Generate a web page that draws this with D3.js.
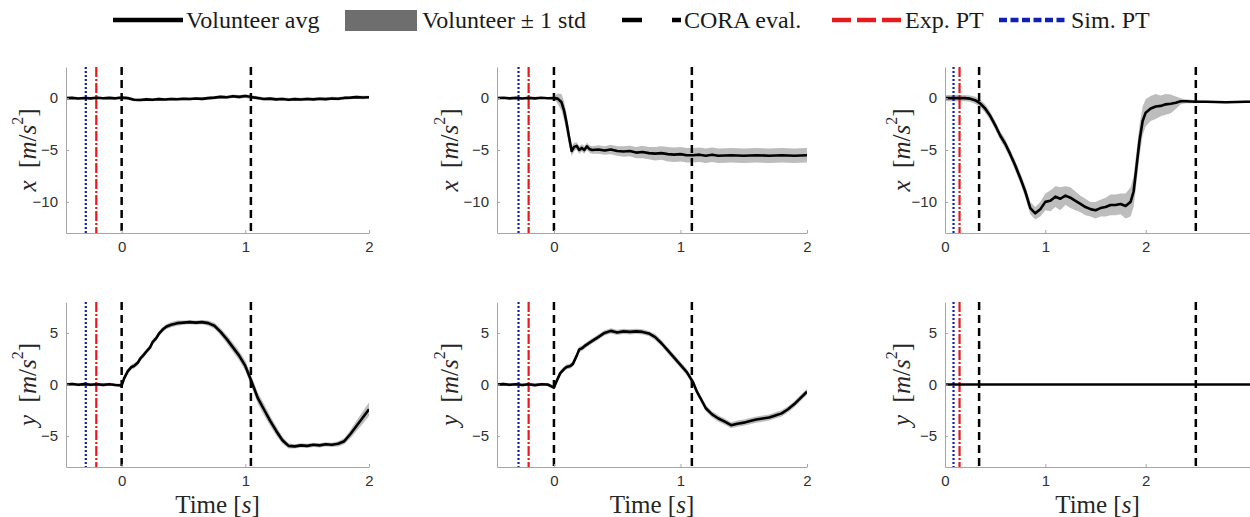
<!DOCTYPE html>
<html>
<head>
<meta charset="utf-8">
<script src="https://cdn.jsdelivr.net/npm/d3@7"></script>
<style>
  body { margin: 0; background: #fff; }
  svg { display: block; }
</style>
</head>
<body>
<div id="chart"></div>
<script>
'use strict';

// [time s, mean m/s^2, std m/s^2]
const xTest1 = [
    [-0.45, 0.0, 0.12], [-0.4, 0.02, 0.12], [-0.35, -0.03, 0.12], [-0.3, 0.01, 0.12],
    [-0.25, -0.02, 0.12], [-0.2, 0.03, 0.12], [-0.15, -0.01, 0.12], [-0.1, 0.02, 0.12],
    [-0.05, -0.02, 0.12], [0, 0.05, 0.12], [0.05, 0.0, 0.14], [0.1, -0.15, 0.15],
    [0.15, -0.18, 0.15], [0.2, -0.12, 0.15], [0.25, -0.15, 0.15], [0.3, -0.1, 0.15],
    [0.35, -0.13, 0.15], [0.4, -0.08, 0.15], [0.45, -0.11, 0.15], [0.5, -0.06, 0.15],
    [0.55, -0.09, 0.15], [0.6, -0.04, 0.15], [0.65, -0.07, 0.15], [0.7, 0.0, 0.16],
    [0.75, 0.05, 0.16], [0.8, 0.12, 0.16], [0.85, 0.08, 0.16], [0.9, 0.18, 0.17],
    [0.95, 0.12, 0.17], [1.0, 0.2, 0.18], [1.05, 0.1, 0.18], [1.1, 0.02, 0.17],
    [1.15, -0.08, 0.16], [1.2, -0.05, 0.16], [1.25, -0.12, 0.16], [1.3, -0.08, 0.16],
    [1.35, -0.15, 0.16], [1.4, -0.1, 0.16], [1.45, -0.13, 0.16], [1.5, -0.08, 0.16],
    [1.55, -0.12, 0.16], [1.6, -0.06, 0.16], [1.65, -0.1, 0.16], [1.7, -0.03, 0.16],
    [1.75, -0.06, 0.16], [1.8, 0.02, 0.16], [1.85, 0.05, 0.16], [1.9, 0.1, 0.16],
    [1.95, 0.06, 0.16], [2.0, 0.08, 0.16]
];

const xTest2 = [
    [-0.45, 0.0, 0.08], [-0.4, 0.03, 0.08], [-0.35, -0.02, 0.08], [-0.3, 0.02, 0.08],
    [-0.25, -0.03, 0.08], [-0.2, 0.02, 0.08], [-0.15, -0.02, 0.08], [-0.1, 0.03, 0.08],
    [-0.05, -0.01, 0.08], [0, 0.0, 0.1], [0.03, -0.05, 0.5], [0.06, -0.4, 0.8],
    [0.08, -1.2, 0.9], [0.1, -2.4, 0.9], [0.12, -3.8, 0.7], [0.14, -5.1, 0.5],
    [0.16, -4.7, 0.4], [0.18, -4.6, 0.35], [0.2, -5.0, 0.35], [0.22, -4.8, 0.35],
    [0.24, -5.0, 0.35], [0.26, -4.65, 0.35], [0.28, -4.9, 0.35], [0.3, -5.0, 0.35],
    [0.35, -4.95, 0.4], [0.4, -5.05, 0.4], [0.45, -4.95, 0.45], [0.5, -5.1, 0.45],
    [0.55, -5.15, 0.5], [0.6, -5.1, 0.5], [0.65, -5.25, 0.55], [0.7, -5.2, 0.6],
    [0.75, -5.3, 0.6], [0.8, -5.35, 0.65], [0.85, -5.3, 0.65], [0.9, -5.4, 0.7],
    [0.95, -5.45, 0.7], [1.0, -5.4, 0.7], [1.05, -5.5, 0.7], [1.1, -5.5, 0.7],
    [1.15, -5.45, 0.7], [1.2, -5.55, 0.7], [1.25, -5.45, 0.7], [1.3, -5.55, 0.7],
    [1.4, -5.5, 0.7], [1.5, -5.55, 0.7], [1.6, -5.5, 0.7], [1.7, -5.55, 0.7],
    [1.8, -5.5, 0.7], [1.9, -5.55, 0.7], [2.0, -5.5, 0.7]
];

const xTest3 = [
    [0, 0.0, 0.3], [0.1, 0.0, 0.3], [0.2, 0.0, 0.3], [0.25, -0.05, 0.3],
    [0.3, -0.2, 0.35], [0.35, -0.5, 0.35], [0.4, -1.0, 0.4], [0.45, -1.7, 0.4],
    [0.5, -2.6, 0.4], [0.55, -3.6, 0.4], [0.6, -4.4, 0.45], [0.65, -5.4, 0.45],
    [0.7, -6.5, 0.5], [0.75, -7.7, 0.5], [0.8, -9.0, 0.55], [0.85, -10.6, 0.6],
    [0.9, -11.1, 0.6], [0.95, -10.7, 0.7], [1.0, -10.0, 0.8], [1.05, -9.9, 1.0],
    [1.1, -9.5, 1.0], [1.15, -9.7, 1.1], [1.2, -9.4, 0.9], [1.25, -9.6, 1.0],
    [1.3, -9.9, 0.9], [1.35, -10.2, 0.8], [1.4, -10.5, 0.8], [1.45, -10.7, 0.7],
    [1.5, -10.8, 0.8], [1.55, -10.6, 0.8], [1.6, -10.5, 0.9], [1.65, -10.3, 1.0],
    [1.7, -10.3, 1.0], [1.75, -10.2, 1.0], [1.8, -10.4, 1.2], [1.85, -10.0, 1.4],
    [1.88, -9.0, 1.5], [1.91, -6.5, 1.5], [1.94, -4.0, 1.5], [1.97, -2.2, 1.4],
    [2.0, -1.4, 1.3], [2.05, -1.0, 1.2], [2.1, -0.8, 1.2], [2.15, -0.75, 1.0],
    [2.2, -0.6, 1.0], [2.25, -0.55, 0.9], [2.3, -0.45, 0.6], [2.35, -0.3, 0.3],
    [2.4, -0.3, 0.2], [2.5, -0.35, 0.15], [2.6, -0.35, 0.1], [2.8, -0.4, 0.1],
    [3.0, -0.35, 0.1], [3.04, -0.35, 0.1]
];

const yTest1 = [
    [-0.45, 0.0, 0.15], [-0.4, 0.05, 0.15], [-0.35, -0.03, 0.15], [-0.3, 0.04, 0.15],
    [-0.25, -0.02, 0.15], [-0.2, 0.03, 0.15], [-0.15, -0.04, 0.15], [-0.1, 0.02, 0.15],
    [-0.05, -0.05, 0.15], [0, -0.1, 0.2], [0.02, 0.6, 0.25], [0.05, 1.3, 0.25],
    [0.08, 1.7, 0.25], [0.1, 1.8, 0.25], [0.13, 2.1, 0.25], [0.15, 2.5, 0.25],
    [0.18, 2.9, 0.25], [0.2, 3.2, 0.25], [0.23, 3.6, 0.25], [0.25, 4.1, 0.25],
    [0.28, 4.5, 0.25], [0.3, 4.9, 0.25], [0.33, 5.3, 0.25], [0.36, 5.6, 0.25],
    [0.4, 5.8, 0.25], [0.45, 5.95, 0.25], [0.5, 6.0, 0.2], [0.55, 6.05, 0.2],
    [0.6, 6.0, 0.2], [0.65, 6.05, 0.2], [0.7, 5.95, 0.25], [0.75, 5.7, 0.3],
    [0.8, 5.1, 0.35], [0.85, 4.4, 0.4], [0.9, 3.6, 0.45], [0.95, 2.8, 0.45],
    [1.0, 1.8, 0.5], [1.05, 0.3, 0.5], [1.1, -1.3, 0.55], [1.15, -2.4, 0.55],
    [1.2, -3.5, 0.5], [1.25, -4.5, 0.45], [1.3, -5.4, 0.35], [1.35, -5.95, 0.25],
    [1.4, -6.0, 0.2], [1.45, -5.9, 0.2], [1.5, -5.95, 0.2], [1.55, -5.85, 0.2],
    [1.6, -5.9, 0.2], [1.65, -5.8, 0.2], [1.7, -5.85, 0.2], [1.75, -5.75, 0.25],
    [1.8, -5.5, 0.3], [1.85, -4.8, 0.4], [1.9, -4.0, 0.5], [1.95, -3.2, 0.6],
    [2.0, -2.4, 0.65]
];

const yTest2 = [
    [-0.45, 0.0, 0.15], [-0.4, 0.04, 0.15], [-0.35, -0.03, 0.15], [-0.3, 0.03, 0.15],
    [-0.25, -0.05, 0.15], [-0.2, 0.02, 0.15], [-0.15, -0.06, 0.15], [-0.1, 0.03, 0.15],
    [-0.05, 0.0, 0.15], [0, -0.3, 0.2], [0.02, 0.3, 0.25], [0.05, 1.1, 0.25],
    [0.08, 1.5, 0.25], [0.1, 1.7, 0.25], [0.13, 1.8, 0.25], [0.15, 2.0, 0.25],
    [0.18, 2.8, 0.25], [0.2, 3.4, 0.25], [0.22, 3.5, 0.25], [0.25, 3.8, 0.25],
    [0.3, 4.2, 0.25], [0.35, 4.6, 0.25], [0.4, 5.0, 0.25], [0.45, 5.2, 0.25],
    [0.5, 5.05, 0.25], [0.55, 5.15, 0.25], [0.6, 5.1, 0.25], [0.65, 5.15, 0.25],
    [0.7, 5.1, 0.25], [0.75, 4.95, 0.25], [0.8, 4.6, 0.3], [0.85, 4.0, 0.3],
    [0.9, 3.3, 0.3], [0.95, 2.6, 0.3], [1.0, 1.9, 0.3], [1.05, 1.2, 0.3],
    [1.1, 0.2, 0.3], [1.13, -0.7, 0.3], [1.17, -1.6, 0.3], [1.2, -2.3, 0.3],
    [1.25, -2.9, 0.3], [1.3, -3.3, 0.3], [1.35, -3.6, 0.3], [1.4, -3.95, 0.3],
    [1.45, -3.8, 0.3], [1.5, -3.7, 0.3], [1.55, -3.55, 0.3], [1.6, -3.4, 0.3],
    [1.65, -3.3, 0.3], [1.7, -3.2, 0.3], [1.75, -3.0, 0.3], [1.8, -2.8, 0.3],
    [1.85, -2.4, 0.3], [1.9, -1.9, 0.3], [1.95, -1.3, 0.3], [2.0, -0.7, 0.3]
];

const yTest3 = [
    [0, 0.0, 0.0], [1.0, 0.0, 0.0], [2.0, 0.0, 0.0], [3.04, 0.0, 0.0]
];

// [sim PT, exp PT, CORA start, CORA end]
const test1Events = [-0.29, -0.205, 0, 1.045];
const test2Events = [-0.28, -0.2, 0, 1.09];
const test3Events = [0.085, 0.145, 0.34, 2.5];

const xDomains = [[-0.45, 2], [-0.45, 2], [0, 3.04]];
const xTickValues = [0, 1, 2];
const xAccTicks = [-10, -5, 0];
const yAccTicks = [-5, 0, 5];
const xAccDomain = [-13, 3];
const yAccDomain = [-8, 8];

const legendLabels = ['Volunteer avg', 'Volunteer \u00b1 1 std', 'CORA eval.', 'Exp. PT', 'Sim. PT'];

const serif = "'Liberation Serif', 'DejaVu Serif', serif";

const settings = {
    cols: [[66, 369], [497, 807], [945, 1250]],
    rows: [[67, 233], [302, 467]],
    yLabelX: [27, 449, 901],
    colour: {
        mean: '#000000',
        band: '#bdbdbd',
        bandLegend: '#6e6e6e',
        cora: '#000000',
        exp: '#e41a1c',
        sim: '#1020b0',
        axis: '#a6a6a6',
        tickText: '#303030',
        label: '#262626'
    }
};

const panels = [
    { col: 0, row: 0, data: xTest1, events: test1Events, domain: xAccDomain, ticks: xAccTicks, axisName: 'x' },
    { col: 1, row: 0, data: xTest2, events: test2Events, domain: xAccDomain, ticks: xAccTicks, axisName: 'x' },
    { col: 2, row: 0, data: xTest3, events: test3Events, domain: xAccDomain, ticks: xAccTicks, axisName: 'x' },
    { col: 0, row: 1, data: yTest1, events: test1Events, domain: yAccDomain, ticks: yAccTicks, axisName: 'y' },
    { col: 1, row: 1, data: yTest2, events: test2Events, domain: yAccDomain, ticks: yAccTicks, axisName: 'y' },
    { col: 2, row: 1, data: yTest3, events: test3Events, domain: yAccDomain, ticks: yAccTicks, axisName: 'y' }
];

const svg = d3.select('#chart')
    .append('svg')
    .attr('width', 1250)
    .attr('height', 517);

function drawPanel(panel, idx) {
    const [x0, x1] = settings.cols[panel.col];
    const [y0, y1] = settings.rows[panel.row];
    const c = settings.colour;

    const xScale = d3.scaleLinear()
        .domain(xDomains[panel.col])
        .range([x0, x1]);

    const yScale = d3.scaleLinear()
        .domain(panel.domain)
        .range([y1, y0]);

    const clipId = 'clip-' + idx;
    svg.append('clipPath')
        .attr('id', clipId)
        .append('rect')
        .attr('x', x0)
        .attr('y', y0)
        .attr('width', x1 - x0)
        .attr('height', y1 - y0);

    const plot = svg.append('g')
        .attr('clip-path', `url(#${clipId})`);

    const band = d3.area()
        .x(function (d) { return xScale(d[0]); })
        .y0(function (d) { return yScale(d[1] - d[2]); })
        .y1(function (d) { return yScale(d[1] + d[2]); });

    plot.append('path')
        .datum(panel.data)
        .attr('d', band)
        .attr('fill', c.band)
        .attr('stroke', 'none');

    const meanLine = d3.line()
        .x(function (d) { return xScale(d[0]); })
        .y(function (d) { return yScale(d[1]); });

    const xAxis = d3.axisBottom(xScale)
        .tickValues(xTickValues)
        .tickSizeInner(-3)
        .tickSizeOuter(0)
        .tickPadding(8)
        .tickFormat(d3.format('d'));

    const gx = svg.append('g')
        .attr('transform', `translate(0,${y1})`)
        .call(xAxis);

    const yAxis = d3.axisLeft(yScale)
        .tickValues(panel.ticks)
        .tickSizeInner(-3)
        .tickSizeOuter(0)
        .tickPadding(8)
        .tickFormat(d3.format('d'));

    const gy = svg.append('g')
        .attr('transform', `translate(${x0},0)`)
        .call(yAxis);

    [gx, gy].forEach(function (g) {
        g.select('.domain').attr('stroke', c.axis).attr('stroke-width', 1);
        g.selectAll('.tick line').attr('stroke', c.axis);
        g.selectAll('.tick text')
            .attr('fill', c.tickText)
            .attr('font-family', "'Liberation Sans', Arial, sans-serif")
            .attr('font-size', 15);
    });

    const [sim, exp, coraStart, coraEnd] = panel.events;

    plot.append('line')
        .attr('x1', xScale(sim)).attr('x2', xScale(sim))
        .attr('y1', y0).attr('y2', y1)
        .attr('stroke', c.sim)
        .attr('stroke-width', 2.2)
        .attr('stroke-dasharray', '2,2');

    plot.append('line')
        .attr('x1', xScale(exp)).attr('x2', xScale(exp))
        .attr('y1', y0).attr('y2', y1)
        .attr('stroke', c.exp)
        .attr('stroke-width', 2.2)
        .attr('stroke-dasharray', '10,2,2,2');

    plot.selectAll('line.cora')
        .data([coraStart, coraEnd])
        .join('line')
        .attr('class', 'cora')
        .attr('x1', function (d) { return xScale(d); })
        .attr('x2', function (d) { return xScale(d); })
        .attr('y1', y0)
        .attr('y2', y1)
        .attr('stroke', c.cora)
        .attr('stroke-width', 2.5)
        .attr('stroke-dasharray', '8,5');

    plot.append('path')
        .datum(panel.data)
        .attr('d', meanLine)
        .attr('fill', 'none')
        .attr('stroke', c.mean)
        .attr('stroke-width', 2.6)
        .attr('stroke-linejoin', 'round');

    // y label: x [m/s^2]
    const cy = (y0 + y1) / 2;
    const label = svg.append('text')
        .attr('transform', `translate(${settings.yLabelX[panel.col]},${cy}) rotate(-90)`)
        .attr('text-anchor', 'middle')
        .attr('dominant-baseline', 'central')
        .attr('font-family', serif)
        .attr('font-size', 25)
        .attr('fill', c.label);
    label.append('tspan').attr('font-style', 'italic').text(panel.axisName);
    label.append('tspan').text('\u2002[');
    label.append('tspan').attr('font-style', 'italic').text('m');
    label.append('tspan').text('/');
    label.append('tspan').attr('font-style', 'italic').text('s');
    label.append('tspan').attr('font-size', 16).attr('dy', -10).text('2');
    label.append('tspan').attr('dy', 10).text(']');

    if (panel.row === 1) {
        const tl = svg.append('text')
            .attr('x', (x0 + x1) / 2)
            .attr('y', 513)
            .attr('text-anchor', 'middle')
            .attr('font-family', serif)
            .attr('font-size', 25)
            .attr('fill', c.label);
        tl.append('tspan').text('Time [');
        tl.append('tspan').attr('font-style', 'italic').text('s');
        tl.append('tspan').text(']');
    }
}

panels.forEach(drawPanel);

function drawLegend() {
    const c = settings.colour;
    const legend = svg.append('g');
    const ly = 20;
    const textY = 28;

    legend.append('line')
        .attr('x1', 113).attr('x2', 183)
        .attr('y1', ly).attr('y2', ly)
        .attr('stroke', c.mean)
        .attr('stroke-width', 4.5);

    legend.append('rect')
        .attr('x', 345).attr('y', 10)
        .attr('width', 72).attr('height', 21)
        .attr('fill', c.bandLegend);

    legend.append('line')
        .attr('x1', 622).attr('x2', 681)
        .attr('y1', ly).attr('y2', ly)
        .attr('stroke', c.cora)
        .attr('stroke-width', 4.5)
        .attr('stroke-dasharray', '20,30');

    legend.append('line')
        .attr('x1', 832).attr('x2', 901)
        .attr('y1', ly).attr('y2', ly)
        .attr('stroke', c.exp)
        .attr('stroke-width', 4.5)
        .attr('stroke-dasharray', '19,6');

    legend.append('line')
        .attr('x1', 999).attr('x2', 1068)
        .attr('y1', ly).attr('y2', ly)
        .attr('stroke', c.sim)
        .attr('stroke-width', 4.5)
        .attr('stroke-dasharray', '8,3.5');

    const textX = [186, 422, 684, 905, 1071];
    legend.selectAll('text')
        .data(legendLabels)
        .join('text')
        .attr('x', function (d, i) { return textX[i]; })
        .attr('y', textY)
        .attr('font-family', serif)
        .attr('font-size', 24)
        .attr('fill', '#1a1a1a')
        .text(function (d) { return d; });
}

drawLegend();
</script>
</body>
</html>
